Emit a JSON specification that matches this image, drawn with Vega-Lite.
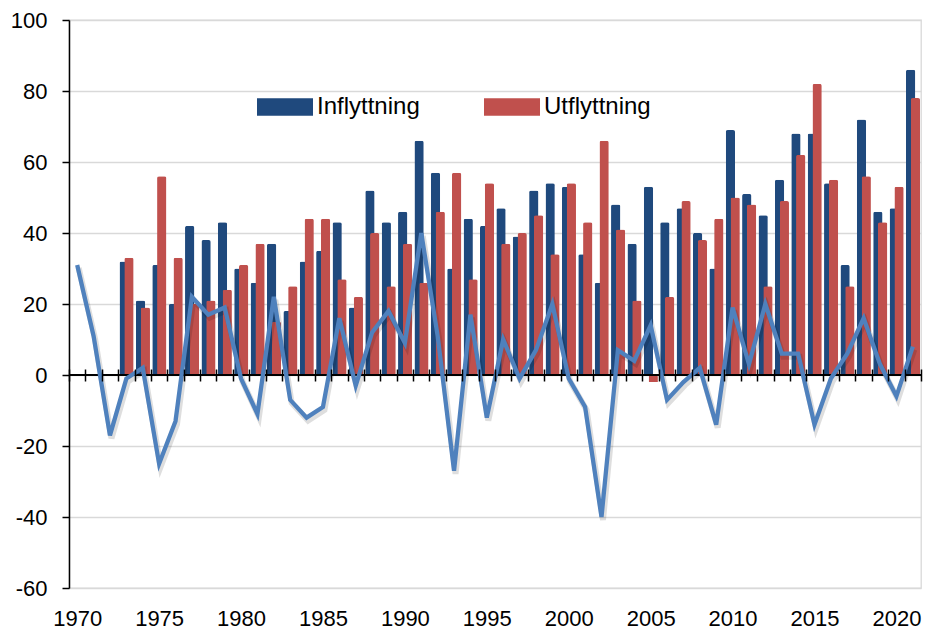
{
  "$schema": "https://vega.github.io/schema/vega-lite/v6.json",
  "width": 852,
  "height": 568,
  "autosize": {"type": "none"},
  "padding": {"left": 69, "top": 20, "right": 5, "bottom": 42},
  "background": "white",
  "config": {"font": "Liberation Sans", "view": {"stroke": "#d9d9d9", "strokeWidth": 1.3}},
  "data": {"values": [
    {"year": 1970, "Netto": 31},
    {"year": 1971, "Netto": 11},
    {"year": 1972, "Netto": -17},
    {"year": 1973, "Inflyttning": 32, "Utflyttning": 33, "Netto": -1},
    {"year": 1974, "Inflyttning": 21, "Utflyttning": 19, "Netto": 2},
    {"year": 1975, "Inflyttning": 31, "Utflyttning": 56, "Netto": -25},
    {"year": 1976, "Inflyttning": 20, "Utflyttning": 33, "Netto": -13},
    {"year": 1977, "Inflyttning": 42, "Utflyttning": 20, "Netto": 22},
    {"year": 1978, "Inflyttning": 38, "Utflyttning": 21, "Netto": 17},
    {"year": 1979, "Inflyttning": 43, "Utflyttning": 24, "Netto": 19},
    {"year": 1980, "Inflyttning": 30, "Utflyttning": 31, "Netto": -1},
    {"year": 1981, "Inflyttning": 26, "Utflyttning": 37, "Netto": -11},
    {"year": 1982, "Inflyttning": 37, "Utflyttning": 15, "Netto": 22},
    {"year": 1983, "Inflyttning": 18, "Utflyttning": 25, "Netto": -7},
    {"year": 1984, "Inflyttning": 32, "Utflyttning": 44, "Netto": -12},
    {"year": 1985, "Inflyttning": 35, "Utflyttning": 44, "Netto": -9},
    {"year": 1986, "Inflyttning": 43, "Utflyttning": 27, "Netto": 16},
    {"year": 1987, "Inflyttning": 19, "Utflyttning": 22, "Netto": -3},
    {"year": 1988, "Inflyttning": 52, "Utflyttning": 40, "Netto": 12},
    {"year": 1989, "Inflyttning": 43, "Utflyttning": 25, "Netto": 18},
    {"year": 1990, "Inflyttning": 46, "Utflyttning": 37, "Netto": 9},
    {"year": 1991, "Inflyttning": 66, "Utflyttning": 26, "Netto": 40},
    {"year": 1992, "Inflyttning": 57, "Utflyttning": 46, "Netto": 11},
    {"year": 1993, "Inflyttning": 30, "Utflyttning": 57, "Netto": -27},
    {"year": 1994, "Inflyttning": 44, "Utflyttning": 27, "Netto": 17},
    {"year": 1995, "Inflyttning": 42, "Utflyttning": 54, "Netto": -12},
    {"year": 1996, "Inflyttning": 47, "Utflyttning": 37, "Netto": 10},
    {"year": 1997, "Inflyttning": 39, "Utflyttning": 40, "Netto": -1},
    {"year": 1998, "Inflyttning": 52, "Utflyttning": 45, "Netto": 7},
    {"year": 1999, "Inflyttning": 54, "Utflyttning": 34, "Netto": 20},
    {"year": 2000, "Inflyttning": 53, "Utflyttning": 54, "Netto": -1},
    {"year": 2001, "Inflyttning": 34, "Utflyttning": 43, "Netto": -9},
    {"year": 2002, "Inflyttning": 26, "Utflyttning": 66, "Netto": -40},
    {"year": 2003, "Inflyttning": 48, "Utflyttning": 41, "Netto": 7},
    {"year": 2004, "Inflyttning": 37, "Utflyttning": 21, "Netto": 4},
    {"year": 2005, "Inflyttning": 53, "Utflyttning": -2, "Netto": 14},
    {"year": 2006, "Inflyttning": 43, "Utflyttning": 22, "Netto": -7},
    {"year": 2007, "Inflyttning": 47, "Utflyttning": 49, "Netto": -2},
    {"year": 2008, "Inflyttning": 40, "Utflyttning": 38, "Netto": 2},
    {"year": 2009, "Inflyttning": 30, "Utflyttning": 44, "Netto": -14},
    {"year": 2010, "Inflyttning": 69, "Utflyttning": 50, "Netto": 19},
    {"year": 2011, "Inflyttning": 51, "Utflyttning": 48, "Netto": 3},
    {"year": 2012, "Inflyttning": 45, "Utflyttning": 25, "Netto": 20},
    {"year": 2013, "Inflyttning": 55, "Utflyttning": 49, "Netto": 6},
    {"year": 2014, "Inflyttning": 68, "Utflyttning": 62, "Netto": 6},
    {"year": 2015, "Inflyttning": 68, "Utflyttning": 82, "Netto": -14},
    {"year": 2016, "Inflyttning": 54, "Utflyttning": 55, "Netto": -1},
    {"year": 2017, "Inflyttning": 31, "Utflyttning": 25, "Netto": 6},
    {"year": 2018, "Inflyttning": 72, "Utflyttning": 56, "Netto": 16},
    {"year": 2019, "Inflyttning": 46, "Utflyttning": 43, "Netto": 3},
    {"year": 2020, "Inflyttning": 47, "Utflyttning": 53, "Netto": -6},
    {"year": 2021, "Inflyttning": 86, "Utflyttning": 78, "Netto": 8}
  ]},
  "layer": [
    {
      "transform": [{"fold": ["Inflyttning"], "as": ["serie", "value"]}, {"filter": "isValid(datum.value)"}],
      "mark": {"type": "bar", "width": 9.3, "xOffset": -2.2, "cornerRadiusEnd": 2},
      "encoding": {
        "x": {"field": "year", "type": "ordinal", "sort": "ascending", "scale": {"paddingInner": 0, "paddingOuter": 0},
              "axis": {"title": null, "offset": -219, "domain": false, "tickBand": "extent", "tickSize": 12, "tickWidth": 1.5, "tickColor": "black", "labelExpr": "datum.value % 5 == 0 ? datum.label : ''", "labelOverlap": false, "labelAngle": 0, "labelFontSize": 22, "labelColor": "black", "labelPadding": 227, "zindex": 1, "grid": false}},
        "y": {"field": "value", "type": "quantitative", "scale": {"domain": [-60, 100], "nice": false, "zero": false},
              "axis": {"title": null, "values": [-60, -40, -20, 0, 20, 40, 60, 80, 100], "labelExpr": "datum.value + ''", "grid": true, "gridColor": "#d9d9d9", "gridWidth": 1.3, "domainColor": "black", "domainWidth": 1.5, "tickColor": "black", "tickSize": 7, "tickWidth": 1.5, "labelFontSize": 22, "labelColor": "black", "labelPadding": 15}},
        "color": {"field": "serie", "type": "nominal", "scale": {"domain": ["Inflyttning", "Utflyttning"], "range": ["#1F497D", "#C0504D"]},
                  "legend": {"orient": "none", "legendX": 188, "legendY": 59, "direction": "horizontal", "title": null, "symbolType": "M-1,-0.31H1V0.31H-1Z", "symbolSize": 3136, "symbolStrokeWidth": 0, "symbolOpacity": 1, "labelFontSize": 24, "labelColor": "black", "labelOffset": 4, "columnPadding": 64, "padding": 0}}
      }
    },
    {
      "transform": [{"fold": ["Utflyttning"], "as": ["serie", "value"]}, {"filter": "isValid(datum.value)"}],
      "mark": {"type": "bar", "width": 9.3, "xOffset": 2.6, "cornerRadiusEnd": 2},
      "encoding": {
        "x": {"field": "year", "type": "ordinal", "sort": "ascending", "scale": {"paddingInner": 0, "paddingOuter": 0},
              "axis": {"title": null, "offset": -219, "domain": false, "tickBand": "extent", "tickSize": 12, "tickWidth": 1.5, "tickColor": "black", "labelExpr": "datum.value % 5 == 0 ? datum.label : ''", "labelOverlap": false, "labelAngle": 0, "labelFontSize": 22, "labelColor": "black", "labelPadding": 227, "zindex": 1, "grid": false}},
        "y": {"field": "value", "type": "quantitative", "scale": {"domain": [-60, 100], "nice": false, "zero": false},
              "axis": {"title": null, "values": [-60, -40, -20, 0, 20, 40, 60, 80, 100], "labelExpr": "datum.value + ''", "grid": true, "gridColor": "#d9d9d9", "gridWidth": 1.3, "domainColor": "black", "domainWidth": 1.5, "tickColor": "black", "tickSize": 7, "tickWidth": 1.5, "labelFontSize": 22, "labelColor": "black", "labelPadding": 15}},
        "color": {"field": "serie", "type": "nominal", "scale": {"domain": ["Inflyttning", "Utflyttning"], "range": ["#1F497D", "#C0504D"]},
                  "legend": {"orient": "none", "legendX": 188, "legendY": 59, "direction": "horizontal", "title": null, "symbolType": "M-1,-0.31H1V0.31H-1Z", "symbolSize": 3136, "symbolStrokeWidth": 0, "symbolOpacity": 1, "labelFontSize": 24, "labelColor": "black", "labelOffset": 4, "columnPadding": 64, "padding": 0}}
      }
    },
    {
      "data": {"values": [{"zero": 0}]},
      "mark": {"type": "rule", "color": "black", "strokeWidth": 2},
      "encoding": {"y": {"field": "zero", "type": "quantitative"}}
    },
    {
      "mark": {"type": "line", "color": "#000000", "opacity": 0.13, "strokeWidth": 6, "xOffset": 1.5, "yOffset": 3},
      "encoding": {
        "x": {"field": "year", "type": "ordinal", "sort": "ascending", "scale": {"paddingInner": 0, "paddingOuter": 0},
              "axis": {"title": null, "offset": -219, "domain": false, "tickBand": "extent", "tickSize": 12, "tickWidth": 1.5, "tickColor": "black", "labelExpr": "datum.value % 5 == 0 ? datum.label : ''", "labelOverlap": false, "labelAngle": 0, "labelFontSize": 22, "labelColor": "black", "labelPadding": 227, "zindex": 1, "grid": false}},
        "y": {"field": "Netto", "type": "quantitative"}
      }
    },
    {
      "mark": {"type": "line", "color": "#4F81BD", "strokeWidth": 4.3},
      "encoding": {
        "x": {"field": "year", "type": "ordinal", "sort": "ascending", "scale": {"paddingInner": 0, "paddingOuter": 0},
              "axis": {"title": null, "offset": -219, "domain": false, "tickBand": "extent", "tickSize": 12, "tickWidth": 1.5, "tickColor": "black", "labelExpr": "datum.value % 5 == 0 ? datum.label : ''", "labelOverlap": false, "labelAngle": 0, "labelFontSize": 22, "labelColor": "black", "labelPadding": 227, "zindex": 1, "grid": false}},
        "y": {"field": "Netto", "type": "quantitative"}
      }
    }
  ]
}
